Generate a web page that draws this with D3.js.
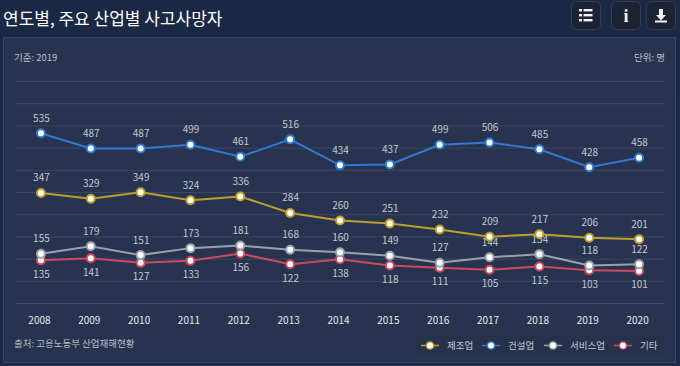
<!DOCTYPE html>
<html>
<head>
<meta charset="utf-8">
<script src="https://cdn.jsdelivr.net/npm/d3@7"></script>
<style>
  html, body { margin: 0; padding: 0; background: #1b2947; overflow: hidden; }
  text { font-family: "Noto Sans CJK KR", "Noto Sans", sans-serif; }
</style>
</head>
<body>
<div id="chart"></div>
<script>
const years = ['2008', '2009', '2010', '2011', '2012', '2013', '2014', '2015', '2016', '2017', '2018', '2019', '2020']
const manufacturing = [347, 329, 349, 324, 336, 284, 260, 251, 232, 209, 217, 206, 201]
const construction = [535, 487, 487, 499, 461, 516, 434, 437, 499, 506, 485, 428, 458]
const services = [155, 179, 151, 173, 181, 168, 160, 149, 127, 144, 154, 118, 122]
const others = [135, 141, 127, 133, 156, 122, 138, 118, 111, 105, 115, 103, 101]
const gridTicks = [0, 70, 140, 210, 280, 350, 420, 490, 560, 630, 700]

const WIDTH = 680, HEIGHT = 366
const LEFT = 16, RIGHT = 664, Y_TOP = 81, Y_BOTTOM = 303

const series = [
  { name: '제조업', values: manufacturing, color: '#bf9d2e', labelDy: -16, legendX: 430, textX: 447 },
  { name: '건설업', values: construction, color: '#3279cf', labelDy: -16, legendX: 491, textX: 508 },
  { name: '서비스업', values: services, color: '#9aa1ad', labelDy: -16, legendX: 553, textX: 570 },
  { name: '기타', values: others, color: '#cf4a5c', labelDy: 13, legendX: 623, textX: 640 },
]

const svg = d3.select('#chart').append('svg').attr('width', WIDTH).attr('height', HEIGHT)
  .style('display', 'block')

const grad = svg.append('defs').append('linearGradient').attr('id', 'bg')
  .attr('x1', 0).attr('x2', 0).attr('y1', 0).attr('y2', 1)
grad.append('stop').attr('offset', '0%').attr('stop-color', '#1a2845')
grad.append('stop').attr('offset', '100%').attr('stop-color', '#1d2b49')
svg.append('rect').attr('width', WIDTH).attr('height', HEIGHT).attr('fill', 'url(#bg)')

// panel
svg.append('rect').attr('x', 3.5).attr('y', 37.5).attr('width', 672).attr('height', 325)
  .attr('fill', '#28344f').attr('stroke', '#364463')

svg.append('text').attr('x', 3).attr('y', 25).attr('fill', '#fff')
  .style('font-size', '17px').text('연도별, 주요 산업별 사고사망자')

// toolbar buttons
const buttons = [{ x: 571 }, { x: 611 }, { x: 646 }]
svg.selectAll('.btn').data(buttons).join('rect').attr('class', 'btn')
  .attr('x', d => d.x + 0.5).attr('y', 1.5).attr('width', 29).attr('height', 28).attr('rx', 5)
  .attr('fill', '#1c2335').attr('stroke', '#333c52')
const listIcon = svg.append('g').attr('fill', '#f2f2f2')
;[10, 15, 20].forEach(y => {
  listIcon.append('rect').attr('x', 579).attr('y', y - 1).attr('width', 3).attr('height', 2.4)
  listIcon.append('rect').attr('x', 583.5).attr('y', y - 1).attr('width', 9).attr('height', 2.4)
})
svg.append('text').attr('x', 626).attr('y', 22).attr('text-anchor', 'middle').attr('fill', '#f2f2f2')
  .style('font-family', '"Liberation Serif", serif').style('font-weight', 700).style('font-size', '18px').text('i')
svg.append('path').attr('d', 'M659 9h4v6h3l-5 5.5-5-5.5h3zM655 20.6h12v1.8h-12z').attr('fill', '#f2f2f2')

svg.append('text').attr('x', 14).attr('y', 61).attr('fill', '#b9bfca').style('font-size', '9.5px').text('기준: 2019')
svg.append('text').attr('x', 665).attr('y', 61).attr('text-anchor', 'end').attr('fill', '#b9bfca').style('font-size', '9.5px').text('단위: 명')

const x = d3.scaleBand().domain(years).range([LEFT, RIGHT])
const y = d3.scaleLinear().domain([0, 700]).range([Y_BOTTOM, Y_TOP])
const cx = d => x(d) + x.bandwidth() / 2

// grid
svg.append('g').selectAll('line').data(gridTicks).join('line')
  .attr('x1', LEFT).attr('x2', RIGHT)
  .attr('y1', d => y(d) + 0.5).attr('y2', d => y(d) + 0.5)
  .attr('stroke', d => d === 0 ? '#414e6c' : '#3a4764').attr('stroke-width', 1)

// x axis
const xAxis = svg.append('g').attr('transform', `translate(-1.5,${Y_BOTTOM})`)
  .call(d3.axisBottom(x).tickSize(0).tickPadding(14))
xAxis.select('.domain').remove()
xAxis.selectAll('text').attr('fill', '#e6e8ec').style('font-size', '10px').style('font-family', '"Noto Sans CJK KR"')

const line = d3.line().x((_, i) => cx(years[i])).y(d => y(d))

// value labels first so markers sit over them
series.forEach(s => {
  svg.append('g').selectAll('text').data(s.values).join('text')
    .attr('x', (_, i) => cx(years[i]) + 0.5)
    .attr('y', d => y(d) + s.labelDy)
    .attr('text-anchor', 'middle').attr('dominant-baseline', 'central')
    .attr('fill', '#c3c8d2').style('font-size', '10px').text(d => d)
})

// draw order: others under services, then blue and gold
;[series[3], series[2], series[1], series[0]].forEach(s => {
  svg.append('path').datum(s.values).attr('d', line).attr('fill', 'none')
    .attr('stroke', s.color).attr('stroke-width', 2)
  svg.append('g').selectAll('circle').data(s.values).join('circle')
    .attr('cx', (_, i) => cx(years[i])).attr('cy', d => y(d)).attr('r', 4)
    .attr('fill', '#fff').attr('stroke', s.color).attr('stroke-width', 2)
})

svg.append('text').attr('x', 14).attr('y', 347).attr('fill', '#b9bfca').style('font-size', '9.5px').text('출처: 고용노동부 산업재해현황')

// legend
svg.append('rect').attr('x', 416).attr('y', 335).attr('width', 248).attr('height', 20).attr('fill', '#26314c')
const legend = svg.append('g').selectAll('g').data(series).join('g')
legend.append('line').attr('x1', d => d.legendX - 9).attr('x2', d => d.legendX + 9)
  .attr('y1', 345.5).attr('y2', 345.5).attr('stroke', d => d.color).attr('stroke-width', 1.5)
legend.append('circle').attr('cx', d => d.legendX).attr('cy', 345.5).attr('r', 3.6)
  .attr('fill', '#fff').attr('stroke', d => d.color).attr('stroke-width', 1.4)
legend.append('text').attr('x', d => d.textX).attr('y', 349).attr('fill', '#c3c8d2')
  .style('font-size', '9.5px').text(d => d.name)
</script>
</body>
</html>
